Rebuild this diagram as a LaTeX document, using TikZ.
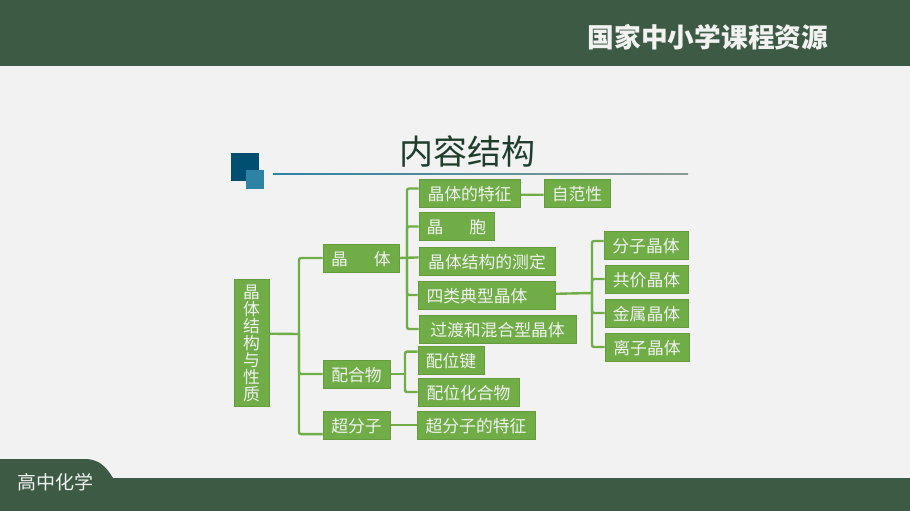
\documentclass[tikz,border=0pt]{standalone}
\usepackage{fontspec}
\setmainfont{Noto Sans CJK SC}
\definecolor{barGreen}{HTML}{3D5A45}
\definecolor{pageGray}{HTML}{F2F2F2}
\definecolor{boxGreen}{HTML}{70AD47}
\definecolor{boxEdge}{HTML}{639B3E}
\definecolor{titleGreen}{HTML}{1E3D2B}
\definecolor{squareDark}{HTML}{004F71}
\definecolor{squareLight}{HTML}{2E83A5}
\tikzset{
    topic/.style={draw=boxEdge, line width=1pt, fill=boxGreen, text=pageGray, inner sep=0pt, minimum height=28pt, text depth=0pt, font=\fontsize{16.8}{17}\selectfont},
    link/.style={draw=boxGreen, line width=2.4pt, rounded corners=2pt},
}
\begin{document}
\begin{tikzpicture}[x=1pt, y=-1pt]
    \useasboundingbox (0, 0) rectangle (910, 511);
    % page and bars
    \fill[pageGray] (0, 0) rectangle (910, 511);
    \fill[barGreen] (0, 0) rectangle (910, 66);
    \fill[barGreen] (0, 511) -- (0, 459) -- (85, 459) .. controls (98, 459) and (106, 466) .. (113, 478) -- (910, 478) -- (910, 511) -- cycle;
    \node[text=pageGray, font=\fontsize{26.7}{27}\selectfont\bfseries] (channel) at (708, 37) {国家中小学课程资源};
    \node[text=pageGray, font=\fontsize{19}{20}\selectfont] (subject) at (55.5, 482) {高中化学};

    % heading
    \fill[squareDark] (231, 153) rectangle (259, 181);
    \fill[squareLight] (246, 170) rectangle (264, 189);
    \shade[left color=squareLight, right color=barGreen!60] (273, 173.5) rectangle (688, 174.5);
    \node[text=titleGreen, font=\fontsize{34}{35}\selectfont] (heading) at (467.5, 151) {内容结构};

    % first level
    \node[topic, minimum width=35pt, minimum height=127pt, align=center] (root) at (251.5, 342.5) {晶\\体\\结\\构\\与\\性\\质};
    \node[topic, minimum width=76pt] (crystal) at (361, 258) {晶\hspace{26pt}体};
    \node[topic, minimum width=67pt] (complex) at (356.5, 374) {配合物};
    \node[topic, minimum width=67pt] (supra) at (356.5, 425) {超分子};

    % second level
    \node[topic, minimum width=101pt] (features) at (469.5, 193) {晶体的特征};
    \node[topic, minimum width=75pt] (cell) at (456.5, 226.5) {晶\hspace{26pt}胞};
    \node[topic, minimum width=136pt] (measure) at (487, 261) {晶体结构的测定};
    \node[topic, minimum width=137pt] (types) at (486.5, 295) {四类典型晶体\hspace{19pt}\null};
    \node[topic, minimum width=157pt] (mixed) at (497.5, 329) {过渡和混合型晶体};
    \node[topic, minimum width=66pt] (bond) at (451, 360) {配位键};
    \node[topic, minimum width=101pt] (compound) at (468.5, 392) {配位化合物};
    \node[topic, minimum width=118pt] (suprafeat) at (476, 425) {超分子的特征};

    % third level
    \node[topic, minimum width=66pt] (anisotropy) at (577, 193) {自范性};
    \node[topic, minimum width=84pt] (molecular) at (646, 245.5) {分子晶体};
    \node[topic, minimum width=83pt] (covalent) at (646.5, 279) {共价晶体};
    \node[topic, minimum width=83pt] (metallic) at (646.5, 313) {金属晶体};
    \node[topic, minimum width=84pt] (ionic) at (647, 347) {离子晶体};

    % trunks
    \coordinate (trunkRoot) at (299, 334);
    \coordinate (trunkCrystal) at (407, 258);
    \coordinate (trunkComplex) at (405, 374);
    \coordinate (trunkTypes) at (592, 293);

    % connectors
    \draw[link] (root.26) -- (trunkRoot);
    \draw[link] (crystal.west) -| (trunkRoot);
    \draw[link] (complex.west) -| (trunkRoot);
    \draw[link] (supra.195) -| (trunkRoot);
    \draw[link] (crystal.east) -- (measure.177.5);
    \draw[link] (features.175) -| (trunkCrystal);
    \draw[link] (cell.west) -| (trunkCrystal);
    \draw[link] (types.west) -| (trunkCrystal);
    \draw[link] (mixed.west) -| (trunkCrystal);
    \draw[link] (features.-2) -- (anisotropy.183.4);
    \draw[link] (complex.east) -- (trunkComplex);
    \draw[link] (bond.166) -| (trunkComplex);
    \draw[link] (compound.west) -| (trunkComplex);
    \draw[link] (supra.east) -- (suprafeat.west);
    \draw[link] (types.1.7) -- (trunkTypes);
    \draw[link] (molecular.174) -| (trunkTypes);
    \draw[link] (covalent.west) -| (trunkTypes);
    \draw[link] (metallic.west) -| (trunkTypes);
    \draw[link] (ionic.west) -| (trunkTypes);
\end{tikzpicture}
\end{document}
